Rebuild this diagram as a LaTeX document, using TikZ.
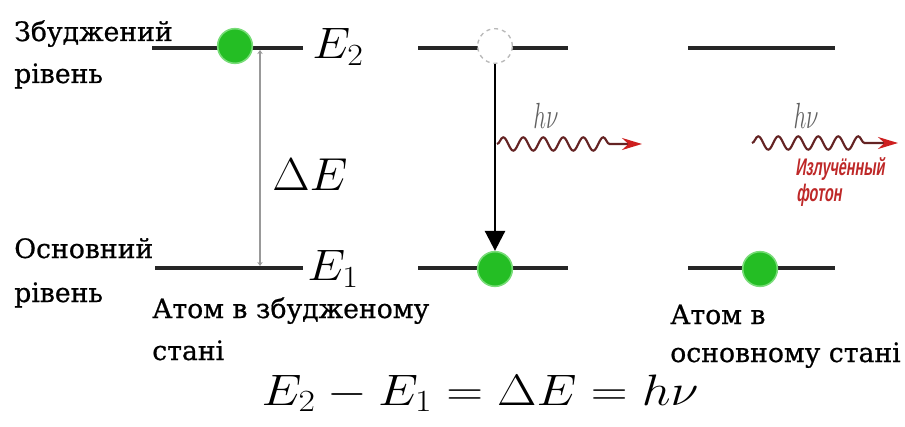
\RequirePackage{fix-cm}
\documentclass[tikz,border=0pt]{standalone}
\usepackage{fontspec}
\newfontfamily\cyr[FakeBold=0.7]{DejaVu Serif}
\newfontfamily\redsans{Liberation Sans}
\usetikzlibrary{decorations.pathmorphing,arrows.meta}
\definecolor{ballgreen}{RGB}{36,190,36}
\definecolor{ballrim}{RGB}{120,220,120}
\definecolor{wavecol}{RGB}{100,35,35}
\definecolor{tipred}{RGB}{205,30,30}
\definecolor{photonred}{RGB}{190,40,40}
\begin{document}
\begin{tikzpicture}[x=0.75pt,y=-0.75pt,
  level/.style={line width=2.3pt,black!85},
  ball/.style={circle,fill=ballgreen,draw=ballrim,line width=1.2pt,minimum size=26pt,inner sep=0pt},
  hole/.style={circle,fill=white,draw=gray!55,dashed,line width=1pt,minimum size=26pt,inner sep=0pt},
  txt/.style={font=\cyr\fontsize{20}{23}\selectfont,anchor=base west,inner sep=0pt},
  mlbl/.style={font=\fontsize{33}{36}\selectfont,inner sep=0pt},
  hnu/.style={font=\fontsize{26}{28}\selectfont,text=gray!75!black,inner sep=0pt},
  redtxt/.style={text=photonred,font=\redsans\bfseries\fontsize{18}{20}\selectfont,inner sep=0pt,anchor=base west,xslant=0.15},
  wave/.style={wavecol,line width=1.6pt,decorate,
    decoration={snake,amplitude=5pt,segment length=15pt,post length=24pt},
    -{Stealth[length=15pt,width=9pt,color=tipred]}},
  trans/.style={line width=2pt,black,-{Triangle[length=15pt,width=15pt]}},
  gap/.style={gray!80,line width=1pt,{Stealth[length=3pt,width=4pt]}-{Stealth[length=3pt,width=4pt]}}
]
\useasboundingbox (0,0) rectangle (905,427);

% level lines
\coordinate (l2a) at (152,48); \coordinate (l2b) at (303,48);
\coordinate (l1a) at (155,268); \coordinate (l1b) at (303,268);
\coordinate (m2a) at (418,48); \coordinate (m2b) at (568,48);
\coordinate (m1a) at (418,268); \coordinate (m1b) at (568,268);
\coordinate (r2a) at (688,48); \coordinate (r2b) at (835,48);
\coordinate (r1a) at (688,268); \coordinate (r1b) at (835,268);
\draw[level] (l2a) -- (l2b);
\draw[level] (l1a) -- (l1b);
\draw[level] (m2a) -- (m2b);
\draw[level] (m1a) -- (m1b);
\draw[level] (r2a) -- (r2b);
\draw[level] (r1a) -- (r1b);

% energy gap
\coordinate (gtop) at (260,50); \coordinate (gbot) at (260,266);
\draw[gap] (gtop) -- (gbot);

% electrons
\node[ball] (b1) at (235,46) {};
\node[hole] (h2) at (495,46) {};
\node[ball] (b2) at (495,269) {};
\node[ball] (b3) at (760,269) {};

% transition arrow
\draw[trans] (h2.south) -- (b2.north);

% photons
\coordinate (w1s) at (497,144); \coordinate (w1e) at (642,144);
\coordinate (w2s) at (752,143); \coordinate (w2e) at (898,143);
\draw[wave] (w1s) -- (w1e);
\draw[wave] (w2s) -- (w2e);
\node[hnu] (hv1) at (546,116) {\scalebox{0.65}[1.05]{$h\nu$}};
\node[hnu] (hv2) at (806,116) {\scalebox{0.65}[1.05]{$h\nu$}};
\node[redtxt] (ph1) at (795,176) {\scalebox{0.6}[1]{Излучённый}};
\node[redtxt] (ph2) at (796,202) {\scalebox{0.6}[1]{фотон}};

% math labels
\node[mlbl,anchor=base west] (E2) at (312,59) {\scalebox{1.1}[1]{$E_2$}};
\node[mlbl,anchor=base west] (E1) at (307,281) {\scalebox{1.1}[1]{$E_1$}};
\node[mlbl,anchor=base west] (dE) at (272,191) {\scalebox{1.1}[1.05]{$\Delta E$}};
\node[mlbl,anchor=base] (formula) at (480,405) {\scalebox{1.16}[1]{$E_2-E_1=\Delta E=h\nu$}};

% texts
\node[txt] (t1) at (14,41) {Збуджений};
\node[txt] (t2) at (14,83) {рівень};
\node[txt] (t3) at (14,258) {Основний};
\node[txt] (t4) at (14,302) {рівень};
\node[txt] (t5) at (152,318) {Атом в збудженому};
\node[txt] (t6) at (152,360) {стані};
\node[txt] (t7) at (670,324) {Атом в};
\node[txt] (t8) at (670,362) {основному стані};
\end{tikzpicture}
\end{document}
